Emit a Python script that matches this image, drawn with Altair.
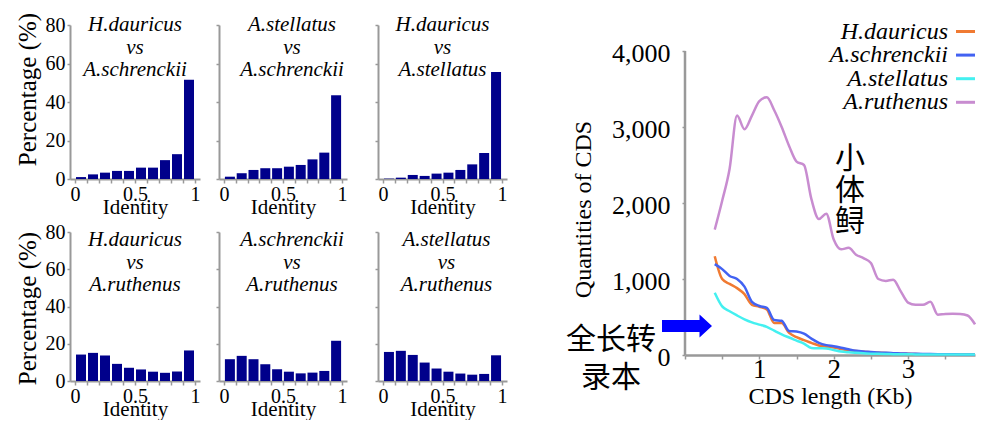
import altair as alt
import pandas as pd

# ---------------- data: identity histograms ----------------
identity_bins = [0.05, 0.15, 0.25, 0.35, 0.45, 0.55, 0.65, 0.75, 0.85, 0.95]

pair_titles = [
    "H.dauricus\nvs\nA.schrenckii",
    "A.stellatus\nvs\nA.schrenckii",
    "H.dauricus\nvs\nA.stellatus",
    "H.dauricus\nvs\nA.ruthenus",
    "A.schrenckii\nvs\nA.ruthenus",
    "A.stellatus\nvs\nA.ruthenus",
]
pct_hd_as = [1.0, 2.4, 3.3, 4.2, 4.2, 5.9, 5.9, 9.8, 12.9, 51.6]
pct_st_as = [1.2, 3.0, 4.7, 5.6, 5.6, 6.4, 7.3, 10.2, 13.7, 43.5]
pct_hd_st = [0.2, 0.7, 2.1, 1.6, 2.8, 3.3, 4.7, 7.6, 13.5, 55.6]
pct_hd_ar = [14.2, 15.1, 13.7, 9.2, 7.1, 6.2, 5.0, 4.4, 5.1, 16.4]
pct_as_ar = [11.7, 13.5, 11.7, 9.0, 6.3, 5.0, 4.1, 4.5, 5.4, 21.6]
pct_st_ar = [15.6, 16.2, 14.0, 9.9, 6.7, 5.0, 4.0, 3.4, 3.8, 13.8]

identity_ticks = [0, 0.1, 0.2, 0.3, 0.4, 0.5, 0.6, 0.7, 0.8, 0.9, 1]
identity_labels = {0: "0", 0.5: "0.5", 1: "1"}
pct_ticks = [0, 20, 40, 60, 80]

# ---------------- data: CDS length distribution ----------------
cds_length = [0.4, 0.5, 0.6, 0.7, 0.8, 0.9, 1.0, 1.1, 1.2, 1.3, 1.4, 1.5,
              1.6, 1.7, 1.8, 1.9, 2.0, 2.1, 2.2, 2.3, 2.4, 2.5, 2.6, 2.7,
              2.8, 2.9, 3.0, 3.1, 3.2, 3.3, 3.4, 3.5, 3.6, 3.7, 3.8, 3.9]
cds_ruthenus = [1650, 2030, 2450, 3150, 2970, 3150, 3340, 3390, 3220, 3000, 2750, 2545,
                2500, 2050, 1790, 1860, 1520, 1390, 1410, 1320, 1275, 1210, 1000, 975,
                990, 840, 690, 660, 660, 700, 530, 540, 543, 540, 520, 404]
cds_dauricus = [1300, 1000, 935, 880, 800, 660, 635, 600, 420, 420, 290, 235,
                195, 160, 125, 110, 100, 78, 62, 52, 42, 35, 30, 25,
                21, 18, 15, 13, 11, 10, 9, 8, 7, 6, 6, 5]
cds_schrenckii = [1195, 1130, 1040, 1000, 900, 700, 645, 620, 460, 450, 315, 308,
                  280, 215, 160, 130, 115, 96, 75, 56, 46, 40, 33, 28,
                  24, 21, 18, 16, 14, 12, 11, 10, 9, 8, 8, 7]
cds_stellatus = [820, 640, 575, 520, 470, 430, 400, 370, 320, 272, 230, 190,
                 150, 92, 88, 86, 65, 45, 35, 28, 22, 18, 15, 13,
                 11, 10, 9, 8, 7, 7, 6, 6, 5, 5, 5, 5]

species = ["H.dauricus", "A.schrenckii", "A.stellatus", "A.ruthenus"]
species_colors = ["#F07A32", "#4262F2", "#44F0F0", "#C88CD0"]
cds_x_ticks = [0, 0.5, 1, 1.5, 2, 2.5, 3, 3.5]
cds_x_labels = {1: "1", 2: "2", 3: "3"}
cds_y_ticks = [0, 1000, 2000, 3000, 4000]
cds_y_labels = ["0", "1,000", "2,000", "3,000", "4,000"]

SERIF = "Liberation Serif"
CJK = "Noto Sans CJK SC"
GREY = "#999999"
BAR = "#00008B"


def label_expr(mapping):
    expr = "''"
    for k, v in mapping.items():
        expr = f"datum.value == {k} ? '{v}' : ({expr})"
    return expr


def panel(values, title, width, height, first_col, title_y, title_dx, ytitle_y):
    df = pd.DataFrame({"identity": identity_bins, "pct": values})
    y_axis_kw = dict(values=pct_ticks, grid=False, domainColor=GREY, domainWidth=2,
                     tickColor=GREY, tickSize=3, tickWidth=1.5, labels=first_col,
                     labelFont=SERIF, labelFontSize=20, labelColor="black", labelPadding=2)
    if first_col:
        y_axis_kw.update(title="Percentage (%)", titleFont=SERIF, titleFontSize=25,
                         titleFontWeight="normal", titleColor="black",
                         titleX=-43, titleY=ytitle_y, titleBaseline="middle", titleAngle=270)
    else:
        y_axis_kw.update(title="")
    x_axis = alt.Axis(values=identity_ticks, grid=False, domainColor=GREY, domainWidth=2,
                      tickColor=GREY, tickSize=4, tickWidth=1.5,
                      labelExpr=label_expr(identity_labels),
                      labelFont=SERIF, labelFontSize=20, labelColor="black", labelPadding=1,
                      labelFlush=False, title="Identity", titleFont=SERIF, titleFontSize=21,
                      titleFontWeight="normal", titleColor="black", titlePadding=-8)
    bars = alt.Chart(df).mark_bar(size=10, color=BAR).encode(
        x=alt.X("identity:Q", scale=alt.Scale(domain=[0, 1], nice=False), axis=x_axis),
        y=alt.Y("pct:Q", scale=alt.Scale(domain=[0, 80], nice=False), axis=alt.Axis(**y_axis_kw)),
    )
    tdf = pd.DataFrame({"t": [title]})
    txt = alt.Chart(tdf).mark_text(
        lineBreak="\n", font=SERIF, fontStyle="italic", fontSize=21, lineHeight=22.5,
        align="center", baseline="middle", color="black"
    ).encode(text="t:N", x=alt.value(width / 2 + title_dx), y=alt.value(title_y))
    return alt.layer(bars, txt).properties(width=width, height=height)


top_h, bot_h = 154, 149
p1 = panel(pct_hd_as, pair_titles[0], 130, top_h, True, 0, 0, 64)
p2 = panel(pct_st_as, pair_titles[1], 128, top_h, False, 0, 9, 64)
p3 = panel(pct_hd_st, pair_titles[2], 129, top_h, False, 0, 0, 64)
p4 = panel(pct_hd_ar, pair_titles[3], 130, bot_h, True, 8, 0, 76)
p5 = panel(pct_as_ar, pair_titles[4], 128, bot_h, False, 8, 9, 76)
p6 = panel(pct_st_ar, pair_titles[5], 129, bot_h, False, 8, 4, 76)

row1 = alt.hconcat(alt.hconcat(p1, p2, spacing=13), p3, spacing=25)
row2 = alt.hconcat(alt.hconcat(p4, p5, spacing=13), p6, spacing=25)
left = alt.vconcat(row1, row2, spacing=3)

# ---------------- right chart ----------------
RW, RH = 290, 330          # plot spans 0..YMAX; axis line drawn only up to 4000
YMAX = 4000 * 330 / 304
rows = []
for name, vals in zip(species, [cds_dauricus, cds_schrenckii, cds_stellatus, cds_ruthenus]):
    for x, v in zip(cds_length, vals):
        rows.append({"species": name, "length": x, "count": v})
cds_df = pd.DataFrame(rows)

x_enc = alt.X("length:Q", scale=alt.Scale(domain=[0, 3.9], nice=False),
              axis=alt.Axis(values=cds_x_ticks, grid=False, domainColor=GREY, domainWidth=2.5,
                            tickColor=GREY, tickSize=4, tickWidth=1.5,
                            labelExpr=label_expr(cds_x_labels),
                            labelFont=SERIF, labelFontSize=27, labelColor="black", labelPadding=-3,
                            labelFlush=False, title="CDS length (Kb)", titleFont=SERIF,
                            titleFontSize=24, titleFontWeight="normal", titleColor="black",
                            titlePadding=2))
y_axis = alt.Axis(values=cds_y_ticks, grid=False, domain=False,
                  labelExpr=label_expr(dict(zip(cds_y_ticks, cds_y_labels))),
                  tickColor=GREY, tickSize=3, tickWidth=1.5, labelOffset=2,
                  labelFont=SERIF, labelFontSize=26, labelColor="black", labelPadding=12,
                  title="Quantities of CDS", titleFont=SERIF, titleFontSize=24,
                  titleFontWeight="normal", titleColor="black", titleX=-102,
                  titleY=184, titleBaseline="middle", titleAngle=270)
y_scale = alt.Scale(domain=[0, YMAX], nice=False)
y_enc = alt.Y("count:Q", scale=y_scale, axis=y_axis)

layers = []
# y axis line from 0 to 4000
axis_df = pd.DataFrame({"count": [0], "top": [cds_y_ticks[-1]]})
layers.append(
    alt.Chart(axis_df).mark_rule(color=GREY, strokeWidth=2.5)
    .encode(x=alt.value(0), y=y_enc, y2="top:Q")
)

draw_order = ["A.ruthenus", "H.dauricus", "A.schrenckii", "A.stellatus"]
for name in draw_order:
    col = species_colors[species.index(name)]
    layers.append(
        alt.Chart(cds_df).transform_filter(alt.datum.species == name)
        .mark_line(color=col, strokeWidth=2.5, interpolate="monotone")
        .encode(x=x_enc, y=y_enc)
    )

# legend (label to the left of its line symbol)
for i, name in enumerate(species):
    ly = 6.5 + 23.6 * i
    ldf = pd.DataFrame({"name": [name]})
    layers.append(
        alt.Chart(ldf).mark_text(font=SERIF, fontStyle="italic", fontSize=24, align="right",
                                 baseline="middle", color="black")
        .encode(text="name:N", x=alt.value(263), y=alt.value(ly))
    )
    layers.append(
        alt.Chart(ldf).mark_rule(color=species_colors[i], strokeWidth=3)
        .encode(x=alt.value(271), x2=alt.value(290), y=alt.value(ly))
    )

# annotations
ann1 = pd.DataFrame({"t": ["小\n体\n鲟"]})
layers.append(
    alt.Chart(ann1).mark_text(lineBreak="\n", font=CJK, fontSize=30, lineHeight=31.5,
                              align="center", baseline="middle", color="black")
    .encode(text="t:N", x=alt.value(165), y=alt.value(134))
)
ann2 = pd.DataFrame({"t": ["全长转\n录本"]})
layers.append(
    alt.Chart(ann2).mark_text(lineBreak="\n", font=CJK, fontSize=30, lineHeight=38,
                              align="center", baseline="middle", color="black")
    .encode(text="t:N", x=alt.value(-74), y=alt.value(315))
)
ARROW = "M-1,-0.24L0.5,-0.24L0.5,-0.46L1,0L0.5,0.46L0.5,0.24L-1,0.24Z"
layers.append(
    alt.Chart(pd.DataFrame({"a": [0]})).mark_point(shape=ARROW, size=2500, filled=True,
                                                   color="#0000FF", opacity=1, strokeWidth=0)
    .encode(x=alt.value(2), y=alt.value(301))
)

right = alt.layer(*layers).properties(width=RW, height=RH)

chart = alt.hconcat(left, right, spacing=57).properties(
    padding={"left": 6, "top": 3, "right": 0, "bottom": 0}
).configure_view(stroke="transparent")

chart.save("out.html", embed_options={"renderer": "svg", "actions": False})
